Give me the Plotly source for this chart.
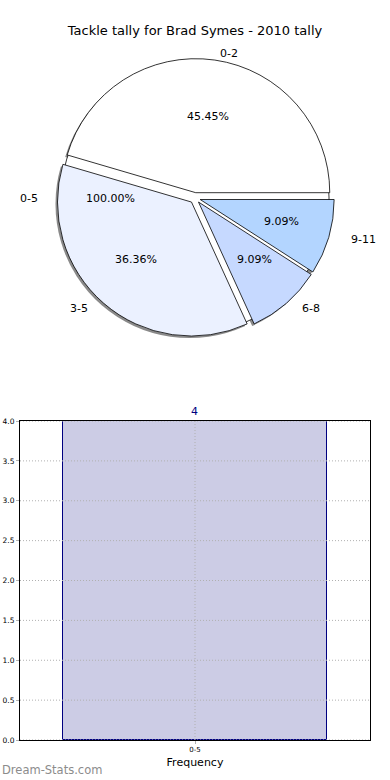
import numpy as np
import plotly.graph_objects as go

# ---------------- data ----------------
title_text = "Tackle tally for Brad Symes - 2010 tally"
pie_labels = ["0-2", "3-5", "6-8", "9-11"]
pie_values = [5, 4, 1, 1]
pie_colors = ["#FFFFFF", "#EBF1FF", "#C6D9FF", "#B3D5FF"]
overall_labels = ["0-5"]
overall_values = [4]
bar_categories = ["0-5"]
bar_values = [4]
y_tick_vals = [0.0, 0.5, 1.0, 1.5, 2.0, 2.5, 3.0, 3.5, 4.0]
x_axis_title = "Frequency"
watermark = "Dream-Stats.com"

# ---------------- geometry / style ----------------
W, H = 390, 780
FONT = "DejaVu Sans"
CX, CY = 195, 198          # pie centre in pixels (from top-left)
R = 134                    # pie radius in pixels
RX, RY = 141, 128          # text placement radii
PULL = 0.04
GRID = "#b0b0b0"

def px_x(x):
    return x / W

def px_y(y):
    return 1 - y / H

def domain(cx, cy, size):
    return dict(x=[px_x(cx - size / 2), px_x(cx + size / 2)],
                y=[px_y(cy + size / 2), px_y(cy - size / 2)])

# matplotlib-style: first slice starts at 3 o'clock and runs counter-clockwise.
# Equivalent in plotly: reversed order, clockwise, starting at 3 o'clock.
rev_labels = pie_labels[::-1]
rev_values = pie_values[::-1]
rev_colors = pie_colors[::-1]

S_main = 2 * R * (1 + PULL)
fig = go.Figure()

# shadow of the main pie
sh = 2
fig.add_trace(go.Pie(
    labels=[l + " " for l in rev_labels], values=rev_values, sort=False, direction="clockwise",
    rotation=90, pull=[PULL] * len(rev_values), textinfo="none", hoverinfo="skip",
    marker=dict(colors=["#8a8a8a"] * len(rev_values), line=dict(width=0)),
    domain=domain(CX - sh, CY + sh, S_main), showlegend=False))

# background overall pie (0-5, 100%)
fig.add_trace(go.Pie(
    labels=overall_labels, values=overall_values, sort=False, textinfo="none",
    hoverinfo="skip", marker=dict(colors=["#FFFFFF"], line=dict(color="black", width=0.8)),
    domain=domain(CX, CY, 2 * R), showlegend=False))

# main pie
fig.add_trace(go.Pie(
    labels=rev_labels, values=rev_values, sort=False, direction="clockwise",
    rotation=90, pull=[PULL] * len(rev_values), textinfo="none",
    marker=dict(colors=rev_colors, line=dict(color="black", width=0.8)),
    domain=domain(CX, CY, S_main), showlegend=False))

annotations = []

def add_pie_text(values, labels, pull):
    total = float(sum(values))
    start = 0.0
    for v, lab in zip(values, labels):
        frac = v / total
        mid = np.deg2rad((start + frac / 2) * 360)
        c, s = np.cos(mid), np.sin(mid)
        lx = CX + (pull + 1.1) * RX * c
        ly = CY - (pull + 1.1) * RY * s
        annotations.append(dict(
            x=px_x(lx), y=px_y(ly), xref="paper", yref="paper", text=lab,
            showarrow=False, xanchor="left" if c > 0 else "right", yanchor="middle",
            font=dict(family=FONT, size=11, color="black")))
        tx = CX + (pull + 0.6) * RX * c
        ty = CY - (pull + 0.6) * RY * s
        annotations.append(dict(
            x=px_x(tx), y=px_y(ty), xref="paper", yref="paper",
            text=f"{frac * 100:.2f}%", showarrow=False, xanchor="center", yanchor="middle",
            font=dict(family=FONT, size=11, color="black")))
        start += frac

add_pie_text(pie_values, pie_labels, PULL)
add_pie_text(overall_values, overall_labels, 0.0)

# ---------------- bar chart ----------------
fig.add_trace(go.Bar(
    x=bar_categories, y=bar_values, width=0.8,
    marker=dict(color="#CCCCE5", line=dict(color="#000080", width=1)),
    text=[str(v) for v in bar_values], textposition="outside", cliponaxis=False,
    textfont=dict(family=FONT, size=11, color="#000080"),
    showlegend=False, xaxis="x", yaxis="y"))

# dotted grid drawn above the bar (as matplotlib does here)
shapes = []
for t in y_tick_vals:
    shapes.append(dict(type="line", xref="x domain", yref="y", x0=0, x1=1, y0=t, y1=t,
                       line=dict(color=GRID, width=1, dash="1px,2px"), layer="above"))
for c in bar_categories:
    shapes.append(dict(type="line", xref="x", yref="y domain", x0=c, x1=c, y0=0, y1=1,
                       line=dict(color=GRID, width=1, dash="1px,2px"), layer="above"))

annotations.append(dict(
    x=0.0, y=px_y(770), xref="paper", yref="paper", text=watermark, showarrow=False,
    xanchor="left", yanchor="middle", font=dict(family=FONT, size=11.5, color="#8c8c8c")))

fig.update_layout(
    width=W, height=H, margin=dict(l=0, r=0, t=0, b=0, autoexpand=False),
    paper_bgcolor="white", plot_bgcolor="white",
    font=dict(family=FONT, color="black"),
    title=dict(text=title_text, x=0.5, xanchor="center", y=px_y(30), yanchor="middle",
               font=dict(family=FONT, size=13, color="black")),
    annotations=annotations, shapes=shapes,
    bargap=0,
    xaxis=dict(domain=[px_x(20), px_x(370)], type="category", range=[-0.53, 0.53],
               automargin=False,
               showline=True, linecolor="black", linewidth=1, mirror=True, layer="above traces",
               showgrid=False, ticks="outside", ticklen=3, tickcolor=GRID,
               tickfont=dict(family=FONT, size=7, color="black"),
               title=dict(text=x_axis_title, standoff=4,
                          font=dict(family=FONT, size=11, color="black")),
               zeroline=False, fixedrange=True),
    yaxis=dict(domain=[px_y(740), px_y(421)], range=[0, 4], tickvals=y_tick_vals,
               automargin=False,
               tickformat=".1f", showline=True, linecolor="black", linewidth=1, mirror=True,
               layer="above traces",
               showgrid=False, ticks="outside", ticklen=3, tickcolor=GRID,
               tickfont=dict(family=FONT, size=7.5, color="black"),
               zeroline=False, fixedrange=True),
)

fig.write_html("out.html", config={"displayModeBar": False},
               post_script="document.body.style.margin='0';")
